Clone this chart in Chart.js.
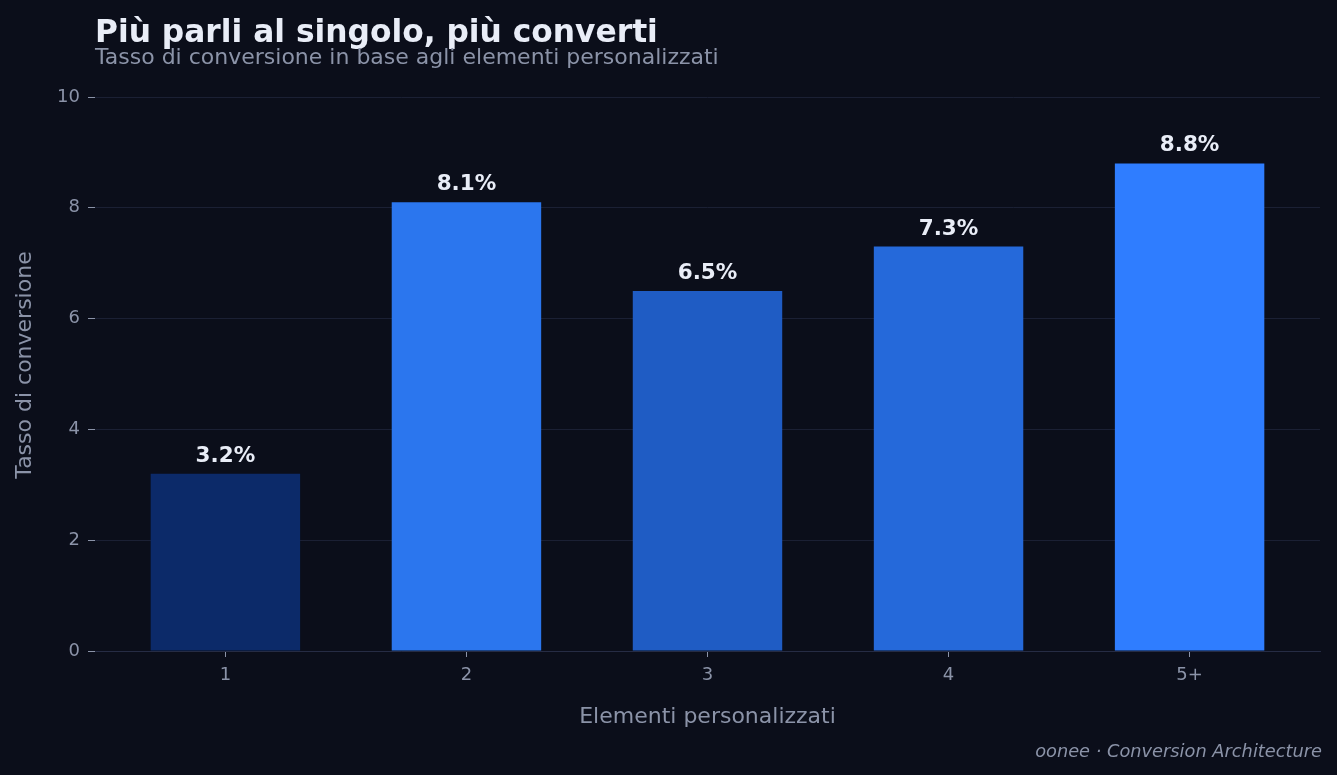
<!DOCTYPE html>
<html>
<head>
<meta charset="utf-8">
<script src="https://cdn.jsdelivr.net/npm/chart.js@4/dist/chart.umd.min.js"></script>
<style>
  html, body { margin: 0; padding: 0; background: #0b0e1a; }
  #wrap { width: 1337px; height: 775px; position: relative; }
</style>
</head>
<body>
<div id="wrap"><canvas id="chart" width="1337" height="775"></canvas></div>
<script>
// Conversion rate by number of personalised elements
const categories = ["1", "2", "3", "4", "5+"];
const rates = [3.2, 8.1, 6.5, 7.3, 8.8];
const barColors = ["#0c2a69", "#2b76ee", "#1f5cc4", "#2569da", "#2f7dff"];
const yTicks = [0, 2, 4, 6, 8, 10];

const FONT = "'DejaVu Sans', sans-serif";
const muted = "#8b93a8";
const bright = "#e9edf7";

// Titles, footer, axis titles and value labels
const textPlugin = {
    id: "texts",
    beforeDraw(chart) {
        const ctx = chart.ctx;
        ctx.save();
        ctx.fillStyle = "#0b0e1a";
        ctx.fillRect(0, 0, chart.width, chart.height);
        ctx.restore();
    },
    afterDraw(chart) {
        const ctx = chart.ctx;
        const area = chart.chartArea;
        ctx.save();
        ctx.textBaseline = "alphabetic";

        // Title + subtitle
        ctx.textAlign = "left";
        ctx.fillStyle = bright;
        ctx.font = "bold 31.3px " + FONT;
        ctx.fillText("Più parli al singolo, più converti", 95, 42);
        ctx.fillStyle = muted;
        ctx.font = "22px " + FONT;
        ctx.fillText("Tasso di conversione in base agli elementi personalizzati", 95, 64);

        // Axis titles
        ctx.textAlign = "center";
        ctx.fillText("Elementi personalizzati", (area.left + area.right) / 2, 723);
        ctx.save();
        ctx.translate(31, 365);
        ctx.rotate(-Math.PI / 2);
        ctx.fillText("Tasso di conversione", 0, 0);
        ctx.restore();

        // Footer
        ctx.textAlign = "right";
        ctx.font = "italic 17.8px " + FONT;
        ctx.fillText("oonee · Conversion Architecture", 1322, 757);

        // Value labels above bars
        ctx.textAlign = "center";
        ctx.fillStyle = bright;
        ctx.font = "bold 21.5px " + FONT;
        const meta = chart.getDatasetMeta(0);
        meta.data.forEach((bar, i) => {
            ctx.fillText(rates[i].toFixed(1) + "%", bar.x, bar.y - 12);
        });
        ctx.restore();
    }
};

new Chart(document.getElementById("chart"), {
    type: "bar",
    data: {
        datasets: [{
            data: rates.map((v, i) => ({ x: i, y: v })),
            backgroundColor: barColors,
            borderWidth: 0,
            barPercentage: 0.62,
            categoryPercentage: 1
        }]
    },
    options: {
        responsive: false,
        animation: false,
        layout: { padding: { top: 97, right: 17, left: 0, bottom: 0 } },
        plugins: {
            legend: { display: false },
            tooltip: { enabled: false }
        },
        scales: {
            x: {
                type: "linear",
                offset: false,
                min: -0.541,
                max: 4.541,
                afterBuildTicks: scale => {
                    scale.ticks = categories.map((c, i) => ({ value: i }));
                },
                afterFit: scale => { scale.height = 124; },
                ticks: {
                    color: muted,
                    font: { family: FONT, size: 18 },
                    padding: 8,
                    maxRotation: 0,
                    callback: value => categories[value]
                },
                grid: {
                    offset: false,
                    drawOnChartArea: false,
                    tickLength: 6,
                    tickColor: muted
                },
                border: { color: "#262c44", width: 1 }
            },
            y: {
                min: 0,
                max: 10,
                afterBuildTicks: scale => {
                    scale.ticks = yTicks.map(v => ({ value: v }));
                },
                afterFit: scale => { scale.width = 95; },
                ticks: {
                    color: muted,
                    font: { family: FONT, size: 18 },
                    padding: 8
                },
                grid: {
                    color: "#1b2034",
                    tickLength: 7,
                    tickColor: muted
                },
                border: { display: false }
            }
        }
    },
    plugins: [textPlugin]
});
</script>
</body>
</html>
